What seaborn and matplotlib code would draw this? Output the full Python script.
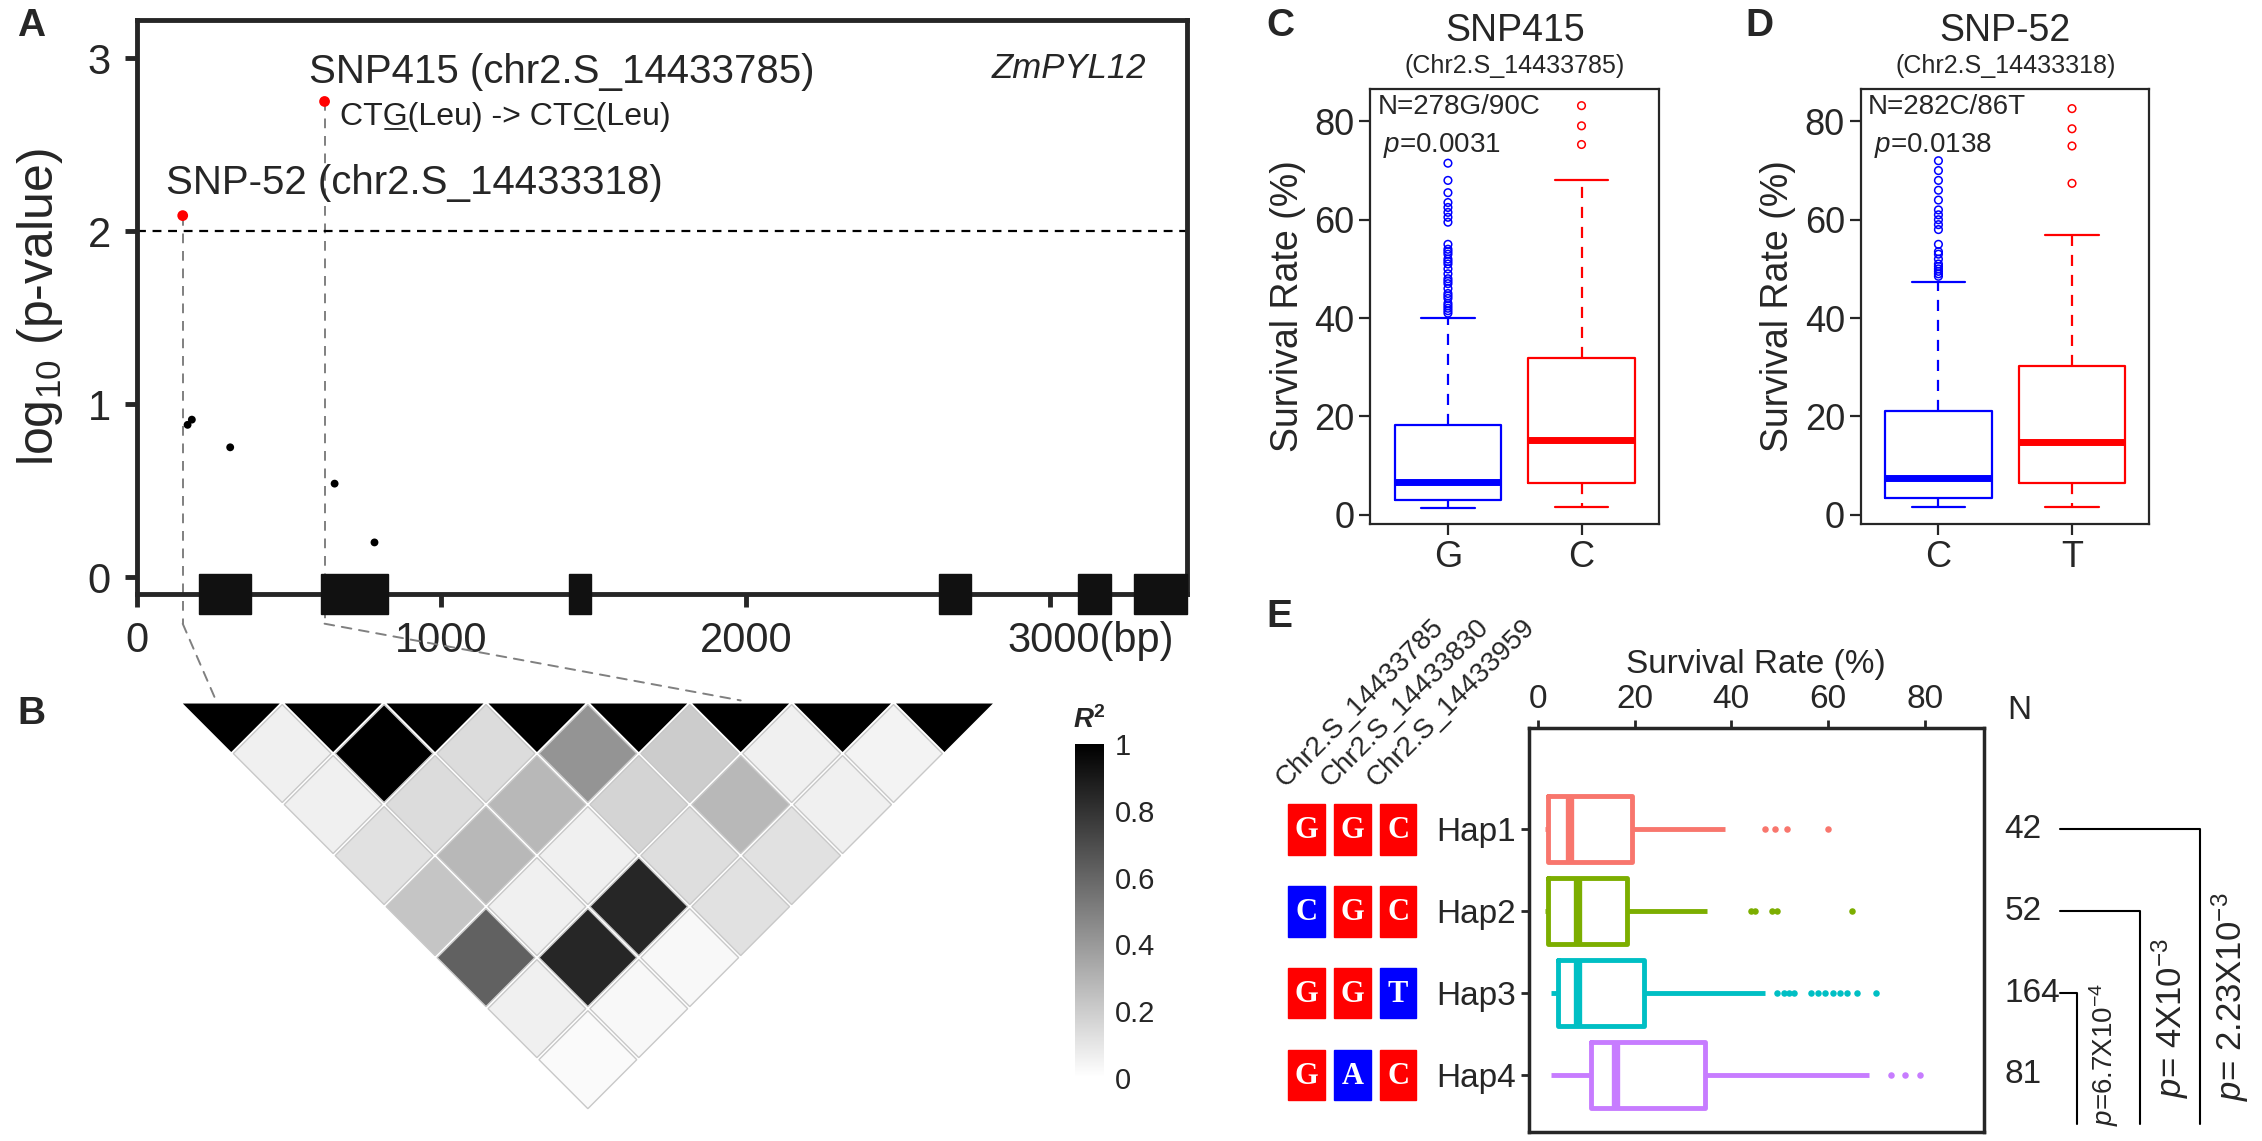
import numpy as np
import pandas as pd
import seaborn as sns
import matplotlib.pyplot as plt
from matplotlib.patches import Polygon, Rectangle, ConnectionPatch
from matplotlib.lines import Line2D
from matplotlib.colors import Normalize
from matplotlib.cm import ScalarMappable
from matplotlib.transforms import ScaledTranslation

sns.set_style("ticks")
plt.rcParams["font.family"] = ["Liberation Sans", "DejaVu Sans"]
plt.rcParams["mathtext.fontset"] = "custom"
plt.rcParams["mathtext.rm"] = "Liberation Sans"
plt.rcParams["mathtext.it"] = "Liberation Sans:italic"
plt.rcParams["mathtext.bf"] = "Liberation Sans:bold"
plt.rcParams["mathtext.bfit"] = "Liberation Sans:italic:bold"
narrow = ["Liberation Sans Narrow", "Liberation Sans", "DejaVu Sans"]

# ---- A: SNPs along ZmPYL12
snp_bp = [150, 616, 166, 180, 306, 649, 780]
snp_logp = [2.09, 2.75, 0.88, 0.91, 0.75, 0.54, 0.20]
snp_group = ["sig", "sig", "ns", "ns", "ns", "ns", "ns"]
exon_start = [205, 605, 1420, 2635, 3090, 3275]
exon_end = [375, 825, 1490, 2740, 3200, 3450]
bp_ticks = [0, 1000, 2000, 3000]
cds_text = ["CT", "G", "(Leu) -> CT", "C", "(Leu)"]
cds_under = [False, True, False, True, False]

# ---- B: pairwise LD (r2), row i holds pairs (i, i+1), (i, i+2), ...
ld_r2 = [
    [0.06, 0.06, 0.12, 0.23, 0.62, 0.06, 0.02],
    [1.00, 0.14, 0.28, 0.06, 0.85, 0.03],
    [0.14, 0.28, 0.06, 0.85, 0.03],
    [0.42, 0.17, 0.13, 0.12],
    [0.20, 0.28, 0.12],
    [0.06, 0.06],
    [0.05],
]
r2_ticks = [0, 0.2, 0.4, 0.6, 0.8, 1]
r2_labels = ["0", "0.2", "0.4", "0.6", "0.8", "1"]
ld_link_x = [0.35, 5.5]

# ---- C: SNP415 (low whisker, Q1, median, Q3, high whisker) + outliers
snp415_alleles = ["G", "C"]
snp415_G_box = [1.4, 3.1, 6.7, 18.2, 40.0]
snp415_C_box = [1.5, 6.5, 15.2, 31.8, 68.0]
snp415_G_out = [41, 41.5, 42, 42.5, 43, 44, 44.5, 45, 46, 47, 47.5, 48, 49, 50, 51,
                51.5, 52, 53, 53.5, 54, 55, 59.5, 60.5, 61.5, 62.5, 63.5, 65.5, 68, 71.5]
snp415_C_out = [75.3, 79.1, 83.2]

# ---- D: SNP-52
snp52_alleles = ["C", "T"]
snp52_C_box = [1.5, 3.5, 7.4, 21.2, 47.4]
snp52_T_box = [1.5, 6.5, 14.7, 30.3, 56.8]
snp52_C_out = [48.5, 49, 49.5, 50, 50.5, 51, 52, 53, 53.5, 55, 58, 59, 60, 61, 62,
               64, 66, 68, 70, 72]
snp52_T_out = [67.4, 75, 78.5, 82.6]

# ---- E: haplotypes
hap_names = ["Hap1", "Hap2", "Hap3", "Hap4"]
hap_n = [42, 52, 164, 81]
hap_colors = ["#F8766D", "#7CAE00", "#00BFC4", "#C77CFF"]
hap_sites = ["Chr2.S_14433785", "Chr2.S_14433830", "Chr2.S_14433959"]
hap_alleles = [["G", "G", "C"], ["C", "G", "C"], ["G", "G", "T"], ["G", "A", "C"]]
hap1_box = [1.5, 2.1, 6.6, 19.5, 38.8]
hap2_box = [1.5, 2.1, 8.4, 18.5, 35.0]
hap3_box = [2.7, 4.2, 8.4, 22.0, 47.0]
hap4_box = [2.7, 11.0, 16.1, 34.5, 68.4]
hap1_out = [47, 49, 51.5, 60]
hap2_out = [44, 45, 48.5, 49.5, 65]
hap3_out = [49.5, 51, 52, 53, 56.5, 58, 59.5, 61, 62.5, 64, 66, 70]
hap4_out = [73, 76, 79]
hap_pvals = [r"$p$= 2.23X10$^{-3}$", r"$p$= 4X10$^{-3}$", r"$p$=6.7X10$^{-4}$"]

W, H = 1568, 791


def fbox(x0, y0, x1, y1):
    return [x0 / W, 1 - y1 / H, (x1 - x0) / W, (y1 - y0) / H]


fig = plt.figure(figsize=(22.62, 11.41), dpi=100)

for lab, (px, py) in zip("ABCDE", [(12, 18), (12, 495), (878, 18), (1210, 18), (878, 428)]):
    fig.text(px / W, 1 - py / H, lab, fontsize=28, fontweight="bold", va="center")

# ================= A
axA = fig.add_axes(fbox(95, 14, 823, 412))
sns.scatterplot(x=snp_bp, y=snp_logp, hue=snp_group, size=snp_group,
                palette={"sig": "red", "ns": "black"}, sizes={"sig": 60, "ns": 32},
                linewidth=0, legend=False, ax=axA, zorder=6)
axA.axhline(2, color="black", ls=(0, (4, 3)), lw=1.6)
for bp, lp, g in zip(snp_bp, snp_logp, snp_group):
    if g == "sig":
        axA.plot([bp, bp], [lp, -0.27], color="#808080", ls=(0, (5, 4)), lw=1.4,
                 clip_on=False, zorder=1)
for s, e in zip(exon_start, exon_end):
    axA.add_patch(Rectangle((s, -0.215), e - s, 0.23, color="#111111",
                            clip_on=False, zorder=5))
axA.set_xlim(0, 3450)
axA.set_ylim(-0.1, 3.22)
axA.set_xticks(bp_ticks)
axA.set_xticklabels([str(t) for t in bp_ticks[:-1]] + ["3000(bp)"])
axA.set_yticks([0, 1, 2, 3])
axA.tick_params(width=3.5, length=9, labelsize=30, pad=10)
for lab in axA.get_xticklabels() + axA.get_yticklabels():
    lab.set_family(narrow)
last = axA.get_xticklabels()[-1]
last.set_transform(last.get_transform() + ScaledTranslation(0.40, 0, fig.dpi_scale_trans))
for sp in axA.spines.values():
    sp.set_linewidth(3.5)
axA.set_ylabel("log$_{10}$ (p-value)", fontsize=36, labelpad=16)
axA.text(564, 2.92, "SNP415 (chr2.S_14433785)", fontsize=29, family=narrow, va="center")
axA.text(94, 2.28, "SNP-52 (chr2.S_14433318)", fontsize=29, family=narrow, va="center")
axA.text(3315, 2.94, "ZmPYL12", fontsize=25, style="italic", ha="right", va="center")
cds = axA.text(668, 2.66, "".join(cds_text), fontsize=23, family=narrow,
               va="center", color="#222222")

# ================= B
axB = fig.add_axes(fbox(125, 487, 690, 770))
cmap = plt.get_cmap("gray_r")
norm = Normalize(0, 1)
nsnp = len(ld_r2) + 1
for i in range(nsnp):
    axB.add_patch(Polygon([(i, 0), (i + 1, 0), (i + 0.5, -0.5)], closed=True,
                          facecolor=cmap(norm(1.0)), edgecolor="white", lw=1.5))
s = 0.48
for i, row in enumerate(ld_r2):
    for k, v in enumerate(row):
        j = i + 1 + k
        cx, cy = (i + j + 1) / 2, -(j - i) / 2
        axB.add_patch(Polygon([(cx, cy + s), (cx + s, cy), (cx, cy - s), (cx - s, cy)],
                              closed=True, facecolor=cmap(norm(v)),
                              edgecolor="#c8c8c8", lw=1))
axB.set_xlim(0, nsnp)
axB.set_ylim(-nsnp / 2, 0)
axB.axis("off")

for bp, lx in zip([b for b, g in zip(snp_bp, snp_group) if g == "sig"], ld_link_x):
    con = ConnectionPatch(xyA=(bp, -0.27), coordsA=axA.transData, xyB=(lx, 0.02),
                          coordsB=axB.transData, ls=(0, (5, 4)), color="#808080", lw=1.4)
    fig.add_artist(con)

cax = fig.add_axes(fbox(745, 516, 765, 747))
cb = fig.colorbar(ScalarMappable(norm=norm, cmap=cmap), cax=cax, ticks=r2_ticks)
cb.outline.set_visible(False)
cb.set_ticklabels(r2_labels)
cax.tick_params(length=0, labelsize=21, pad=8)
cax.text(0.5, 1.03, r"$\mathbfit{R}^{\mathbf{2}}$", transform=cax.transAxes,
         ha="center", va="bottom", fontsize=20)


# ================= C and D
def allele_panel(ax, alleles, box_a, box_b, out_a, out_b, title, sub, ntext, ptext):
    df = pd.DataFrame({"allele": [alleles[0]] * len(box_a) + [alleles[1]] * len(box_b),
                       "rate": box_a + box_b})
    sns.boxplot(data=df, x="allele", y="rate", hue="allele", order=alleles,
                hue_order=alleles, palette=["blue", "red"], fill=False, width=0.8,
                linewidth=1.6, whis=(0, 100), showfliers=False, legend=False,
                whiskerprops={"linestyle": (0, (5, 4))}, medianprops={"linewidth": 5},
                ax=ax)
    for k, (out, col) in enumerate(zip([out_a, out_b], ["blue", "red"])):
        sns.scatterplot(x=[k] * len(out), y=out, marker="o", s=30, facecolor="none",
                        edgecolor=col, linewidth=1.1, ax=ax, zorder=4)
    ax.set_xlim(-0.58, 1.58)
    ax.set_ylim(-1.8, 86.5)
    ax.set_xticks([0, 1])
    ax.set_xticklabels(alleles)
    ax.set_yticks([0, 20, 40, 60, 80])
    ax.tick_params(labelsize=26, width=1.6, length=8)
    for sp in ax.spines.values():
        sp.set_visible(True)
        sp.set_linewidth(1.6)
    ax.set_xlabel("")
    ax.set_ylabel("Survival Rate (%)", fontsize=27, labelpad=6)
    ax.text(0.5, 1.135, title, transform=ax.transAxes, ha="center", va="center", fontsize=27)
    ax.text(0.5, 1.055, sub, transform=ax.transAxes, ha="center", va="center", fontsize=18)
    ax.text(0.025, 0.99, ntext, transform=ax.transAxes, ha="left", va="top", fontsize=20)
    ax.text(0.045, 0.905, ptext, transform=ax.transAxes, ha="left", va="top", fontsize=20)


axC = fig.add_axes(fbox(950, 62, 1150, 363))
allele_panel(axC, snp415_alleles, snp415_G_box, snp415_C_box, snp415_G_out, snp415_C_out,
             "SNP415", "(Chr2.S_14433785)", "N=278G/90C", r"$p$=0.0031")
axD = fig.add_axes(fbox(1290, 62, 1490, 363))
allele_panel(axD, snp52_alleles, snp52_C_box, snp52_T_box, snp52_C_out, snp52_T_out,
             "SNP-52", "(Chr2.S_14433318)", "N=282C/86T", r"$p$=0.0138")

# ================= E
axE = fig.add_axes(fbox(1060, 505, 1375, 785))
hap_boxes = [hap1_box, hap2_box, hap3_box, hap4_box]
hap_outs = [hap1_out, hap2_out, hap3_out, hap4_out]
dfE = pd.DataFrame({"hap": [h for h, b in zip(hap_names, hap_boxes) for _ in b],
                    "rate": [v for b in hap_boxes for v in b]})
sns.boxplot(data=dfE, x="rate", y="hap", hue="hap", order=hap_names, hue_order=hap_names,
            palette=hap_colors, fill=False, orient="h", width=0.8, linewidth=3.5,
            whis=(0, 100), showfliers=False, showcaps=False, legend=False,
            medianprops={"linewidth": 6}, ax=axE)
for k, (out, col) in enumerate(zip(hap_outs, hap_colors)):
    sns.scatterplot(x=out, y=[k] * len(out), color=col, s=22, linewidth=0, ax=axE, zorder=4)
axE.set_xlim(-1.8, 92.2)
axE.set_ylim(3.7, -1.23)
axE.xaxis.tick_top()
axE.xaxis.set_label_position("top")
axE.set_xticks([0, 20, 40, 60, 80])
axE.set_yticks(range(len(hap_names)))
axE.set_yticklabels(hap_names)
axE.tick_params(labelsize=24, width=2, length=6)
axE.set_xlabel("Survival Rate (%)", fontsize=24, labelpad=8)
axE.set_ylabel("")
for sp in axE.spines.values():
    sp.set_visible(True)
    sp.set_linewidth(2.5)
axE.text(97, -1.45, "N", fontsize=24, va="center", ha="left", clip_on=False)
for k, n in enumerate(hap_n):
    axE.text(96.5, k, str(n), fontsize=24, va="center", ha="left", clip_on=False)

# brackets: Hap1/2/3 vs Hap4
br_x = [137, 124.5, 111.6]
br_text_y = [2.05, 2.3, 2.75]
br_text_size = [25, 25, 20]
for k, (bx, ty, pv, fs) in enumerate(zip(br_x, br_text_y, hap_pvals, br_text_size)):
    axE.plot([108, bx, bx], [k, k, 3.6], color="black", lw=1.5, clip_on=False)
    axE.text(bx + 2.0, ty, pv, rotation=90, fontsize=fs, family=narrow,
             ha="left", va="center", clip_on=False)

# allele boxes left of the haplotype names
axG = fig.add_axes(fbox(890, 505, 985, 785))
axG.set_xlim(-0.5, 2.5)
axG.set_ylim(3.7, -1.23)
axG.axis("off")
for r, alle in enumerate(hap_alleles):
    for c, a in enumerate(alle):
        col = "#FF0000" if a == hap_alleles[0][c] else "#0000FF"
        axG.add_patch(Rectangle((c - 0.4, r - 0.31), 0.8, 0.62, color=col))
        axG.text(c, r + 0.02, a, color="white", fontsize=22, fontweight="bold",
                 family="Liberation Serif", ha="center", va="center")
for c, site in enumerate(hap_sites):
    axG.text(c - 0.38, -0.45, site, rotation=45, rotation_mode="anchor",
             ha="left", va="bottom", fontsize=20)

# underline the changed codon base
fig.canvas.draw()
rend = fig.canvas.get_renderer()
bb = cds.get_window_extent(rend)


def text_width(t):
    tmp = axA.text(0, 0, t, fontsize=23, family=narrow)
    w = tmp.get_window_extent(rend).width
    tmp.remove()
    return w


to_fig = fig.transFigure.inverted()
prefix = ""
for piece, under in zip(cds_text, cds_under):
    if under:
        xa = bb.x0 + text_width(prefix + "C") - text_width("C") + 2
        xb = bb.x0 + text_width(prefix + piece)
        yy = bb.y0 + 0.1 * bb.height
        (fx0, fy), (fx1, _) = to_fig.transform([(xa, yy), (xb, yy)])
        fig.add_artist(Line2D([fx0, fx1], [fy, fy], color="#222222", lw=1.3))
    prefix += piece

fig.savefig("out.png", dpi=100)
